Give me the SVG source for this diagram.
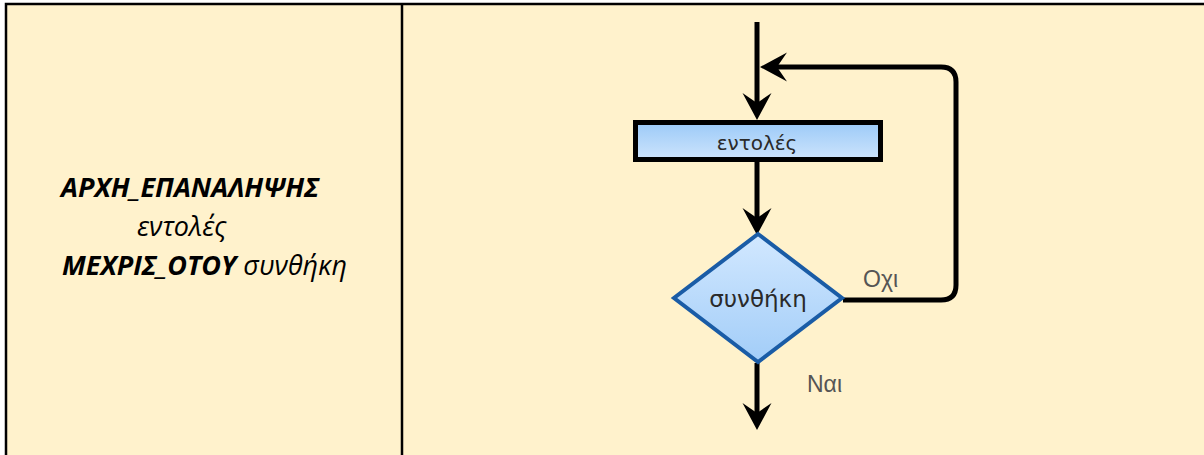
<svg xmlns="http://www.w3.org/2000/svg" width="1204" height="455" viewBox="0 0 1204 455">
  <style>
    .cell { fill: #FFF2CC; }
    .grid { stroke: #000; stroke-width: 2.5; fill: none; }
    .code { font-family: "Open Sans", "Liberation Sans", sans-serif; font-size: 27px; fill: #000; }
    .kw { font-weight: bold; font-style: italic; }
    .it { font-style: italic; }
    .flow { stroke: #000; stroke-width: 5; fill: none; }
    .lbl { font-family: "DejaVu Sans", sans-serif; fill: #2a2a2a; text-anchor: middle; }
    .edge-lbl { font-family: "Liberation Sans", Arial, sans-serif; font-size: 23px; fill: #555; }
  </style>
  <defs>
    <linearGradient id="procFill" x1="0" y1="0" x2="0" y2="1">
      <stop offset="0" stop-color="#9ccaf8"/>
      <stop offset="1" stop-color="#cde4fc"/>
    </linearGradient>
    <linearGradient id="decFill" x1="0" y1="0" x2="0" y2="1">
      <stop offset="0" stop-color="#d2e8ff"/>
      <stop offset="1" stop-color="#a2cdf8"/>
    </linearGradient>
    <marker id="arrow" markerUnits="userSpaceOnUse" viewBox="-11 -16 30 32" refX="0" refY="0" markerWidth="30" markerHeight="32" orient="auto">
      <path d="M17,0 L-10,-14.5 L0,0 L-10,14.5 Z" fill="#000"/>
    </marker>
  </defs>

  <!-- table background and borders -->
  <rect x="0" y="0" width="1204" height="455" fill="#fff"/>
  <rect class="cell" x="6" y="4" width="1198" height="451"/>
  <path class="grid" d="M6,455 V4 H1204 M402,4 V455"/>

  <!-- pseudocode cell -->
  <g id="pseudocode">
    <text class="code kw" x="61" y="197">ΑΡΧΗ_ΕΠΑΝΑΛΗΨΗΣ</text>
    <text class="code it" x="137" y="236">εντολές</text>
    <text class="code" x="62" y="275"><tspan class="kw">ΜΕΧΡΙΣ_ΟΤΟΥ</tspan><tspan class="it"> συνθήκη</tspan></text>
  </g>

  <!-- connectors -->
  <g id="connectors">
    <path class="flow" d="M757,22 V103" marker-end="url(#arrow)"/>
    <path class="flow" d="M757,162 V218" marker-end="url(#arrow)"/>
    <path class="flow" d="M843,300 H941 Q956,300 956,285 V82 Q956,67 941,67 H777" marker-end="url(#arrow)"/>
    <path class="flow" d="M757,363 V413" marker-end="url(#arrow)"/>
    <text class="edge-lbl" x="863" y="287">Οχι</text>
    <text class="edge-lbl" x="807" y="392">Ναι</text>
  </g>

  <!-- process node -->
  <g id="node-commands">
    <rect x="635.5" y="122.5" width="245" height="37" fill="url(#procFill)" stroke="#000" stroke-width="5"/>
    <text class="lbl" x="757" y="150" font-size="20">εντολές</text>
  </g>

  <!-- decision node -->
  <g id="node-condition">
    <polygon points="758,234 842,298 758,362 674,298" fill="url(#decFill)" stroke="#1a5ca6" stroke-width="4"/>
    <text class="lbl" x="758" y="307" font-size="23">συνθήκη</text>
  </g>
</svg>
